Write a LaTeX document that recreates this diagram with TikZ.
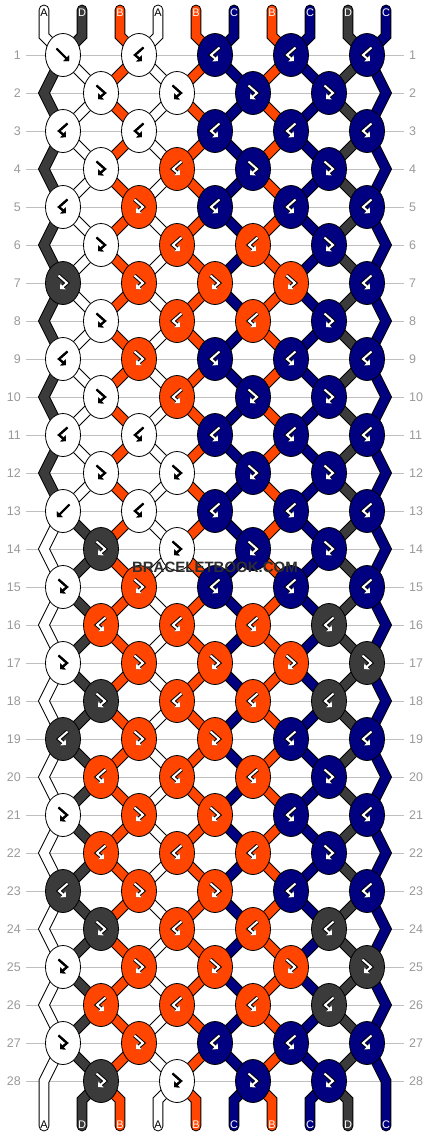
\documentclass[tikz,border=0pt]{standalone}
\usepackage{fontspec}
\setmainfont{Liberation Sans}
\usetikzlibrary{shapes.geometric,arrows.meta}
\definecolor{colA}{HTML}{FFFFFF}
\definecolor{colB}{HTML}{FF4500}
\definecolor{colC}{HTML}{000080}
\definecolor{colD}{HTML}{3B3B3B}
\tikzset{
  str/.style={line width=1pt,double=#1,double distance=8.8pt,line cap=round},
  knot/.style={ellipse,draw,line width=0.8pt,minimum width=35pt,minimum height=43pt,inner sep=0pt},
  rowline/.style={black!25,line width=0.9pt,shorten <=5pt,shorten >=5pt},
  rownum/.style={text=black!40,font=\fontsize{12.5}{13}\selectfont,inner sep=0pt},
  endlbl/.style={font=\fontsize{11}{11}\selectfont,inner sep=0pt},
  wmark/.style={text=black!82,font=\bfseries\fontsize{15}{15}\selectfont},
  tip/.style={-{Triangle[length=4pt,width=8pt]}},
  glyphA/.style={gout/.style={tip,black,line width=2.1pt},gin/.style={tip,black,line width=2.1pt}},
  glyphB/.style={gout/.style={tip,black,line width=4pt},gin/.style={tip,white,line width=2pt}},
  glyphC/.style={glyphB},
  glyphD/.style={glyphB},
  pics/fw/.style={code={\draw[gout] (-6.5,-6.5) -- (6,6); \draw[gin] (-6.5,-6.5) -- (6,6);}},
  pics/bw/.style={code={\draw[gout] (6.5,-6.5) -- (-6,6); \draw[gin] (6.5,-6.5) -- (-6,6);}},
  pics/fb/.style={code={\draw[gout] (-4.5,-7.5) -- (4,0) -- (-3,6); \draw[gin] (-4.5,-7.5) -- (4,0) -- (-3,6);}},
  pics/bf/.style={code={\draw[gout] (4.5,-7.5) -- (-4,0) -- (3,6); \draw[gin] (4.5,-7.5) -- (-4,0) -- (3,6);}}
}

\begin{document}
\begin{tikzpicture}[x=1pt,y=-1pt]
\useasboundingbox (0,0) rectangle (430,1136);

% points where each string passes a row
\foreach \r in {1,...,28}
  \foreach \p in {1,...,10}{
    \pgfmathsetmacro\off{ifthenelse(isodd(\r),ifthenelse(isodd(\p),19,-19),ifthenelse(or(\p==1,\p==10),0,ifthenelse(isodd(\p),-19,19)))}
    \coordinate (s\r-\p) at (6+38*\p+\off,17+38*\r);
  }

% row numbers and rules
\foreach \r in {1,...,28}{
  \node[rownum,anchor=east] (ln\r) at (21,17+38*\r) {\r};
  \node[rownum,anchor=west] (rn\r) at (409,17+38*\r) {\r};
  \draw[rowline] (ln\r) -- (rn\r);
}

% loose ends
\foreach \p in {1,...,10}{
  \coordinate (t\p) at (6+38*\p,10);
  \coordinate (u\p) at (6+38*\p,36);
  \coordinate (v\p) at (6+38*\p,1100);
  \coordinate (w\p) at (6+38*\p,1126);
}

% strings
\draw[str=colA] (t1) -- (u1) -- (s1-1);
\draw[str=colD] (s1-1) \foreach \r in {2,...,13}{ -- (s\r-1)};
\draw[str=colA] (s13-1) \foreach \r in {14,...,28}{ -- (s\r-1)} -- (v1) -- (w1);
\draw[str=colD] (t2) -- (u2) -- (s1-2);
\draw[str=colA] (s1-2) \foreach \r in {2,...,13}{ -- (s\r-2)};
\draw[str=colD] (s13-2) \foreach \r in {14,...,28}{ -- (s\r-2)} -- (v2) -- (w2);
\foreach \p/\c in {3/B,4/A,5/B,6/C,7/B,8/C,9/D,10/C}
  \draw[str=col\c] (t\p) -- (u\p) \foreach \r in {1,...,28}{ -- (s\r-\p)} -- (v\p) -- (w\p);

% knots: glyph/colour
\foreach \r/\row in {
  1/{fw/A,bf/A,bf/C,bf/C,bf/C},
  2/{fb/A,fb/A,fb/C,fb/C},
  3/{bf/A,bf/A,bf/C,bf/C,bf/C},
  4/{fb/A,bf/B,fb/C,fb/C},
  5/{bf/A,fb/B,bf/C,bf/C,bf/C},
  6/{fb/A,bf/B,bf/B,fb/C},
  7/{fb/D,fb/B,fb/B,fb/B,bf/C},
  8/{fb/A,bf/B,bf/B,fb/C},
  9/{bf/A,fb/B,bf/C,bf/C,bf/C},
  10/{fb/A,bf/B,fb/C,fb/C},
  11/{bf/A,bf/A,bf/C,bf/C,bf/C},
  12/{fb/A,fb/A,fb/C,fb/C},
  13/{bw/A,bf/A,bf/C,bf/C,bf/C},
  14/{fb/D,fb/A,fb/C,fb/C},
  15/{fb/A,fb/B,bf/C,bf/C,bf/C},
  16/{bf/B,bf/B,bf/B,bf/D},
  17/{fb/A,fb/B,fb/B,fb/B,fb/D},
  18/{fb/D,bf/B,bf/B,bf/D},
  19/{bf/D,fb/B,fb/B,bf/C,bf/C},
  20/{bf/B,bf/B,bf/B,fb/C},
  21/{fb/A,fb/B,fb/B,bf/C,bf/C},
  22/{bf/B,bf/B,bf/B,fb/C},
  23/{bf/D,fb/B,fb/B,bf/C,bf/C},
  24/{fb/D,bf/B,bf/B,bf/D},
  25/{fb/A,fb/B,fb/B,fb/B,fb/D},
  26/{bf/B,bf/B,bf/B,bf/D},
  27/{fb/A,fb/B,bf/C,bf/C,bf/C},
  28/{fb/D,fb/A,fb/C,fb/C}}
  \foreach \g/\c [count=\j] in \row {
    \pgfmathtruncatemacro\pp{ifthenelse(isodd(\r),2*\j-1,2*\j)}
    \node[knot,fill=col\c] (k\r-\j) at (s\r-\pp) {};
    \edef\knotpic{\noexpand\pic[glyph\c] at (k\r-\j) {\g};}\knotpic
  }

% thread letters
\foreach \p/\c/\t in {1/A/black,2/D/white,3/B/white,4/A/black,5/B/white,6/C/white,7/B/white,8/C/white,9/D/white,10/C/white}{
  \node[endlbl,text=\t] (lt\p) at (6+38*\p,13) {\c};
  \node[endlbl,text=\t] (lb\p) at (6+38*\p,1125) {\c};
}

\node[wmark] (wm) at (215,567) {BRACELETBOOK.COM};
\end{tikzpicture}
\end{document}
